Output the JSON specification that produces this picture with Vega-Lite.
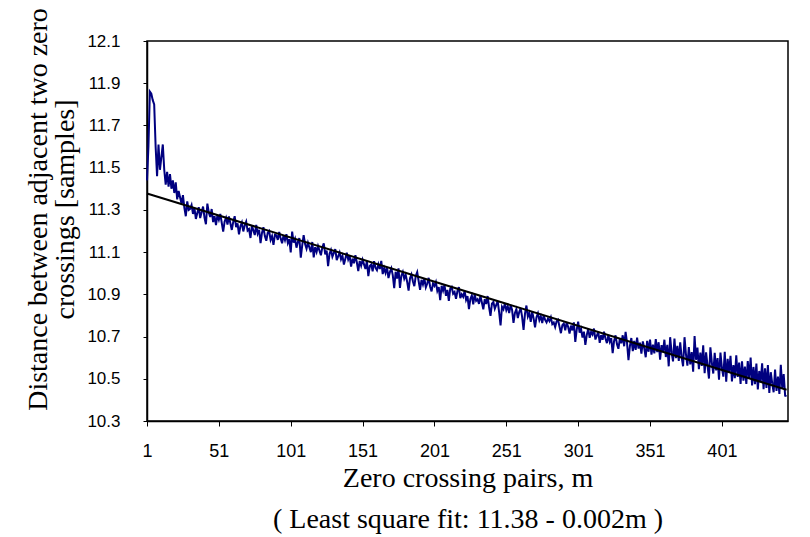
{
  "$schema": "https://vega.github.io/schema/vega-lite/v6.json",
  "autosize": "none",
  "width": 641,
  "height": 380,
  "padding": {"left": 147, "top": 41, "right": 22, "bottom": 116},
  "background": "white",
  "config": {"view": {"stroke": "black", "strokeWidth": 1.5}},
  "datasets": {
    "fit": [{"m": 1, "v": 11.378}, {"m": 446, "v": 10.448}],
    "series": [
      {"m":1,"v":11.44},{"m":2,"v":11.60},{"m":3,"v":11.86},{"m":4,"v":11.85},{"m":5,"v":11.82},{"m":6,"v":11.80},{"m":7,"v":11.60},{"m":8,"v":11.46},{"m":9,"v":11.61},{"m":10,"v":11.49},
      {"m":11,"v":11.55},{"m":12,"v":11.61},{"m":13,"v":11.49},{"m":14,"v":11.42},{"m":15,"v":11.48},{"m":16,"v":11.41},{"m":17,"v":11.47},{"m":18,"v":11.40},{"m":19,"v":11.44},{"m":20,"v":11.38},
      {"m":21,"v":11.43},{"m":22,"v":11.35},{"m":23,"v":11.39},{"m":24,"v":11.36},{"m":25,"v":11.33},{"m":26,"v":11.37},{"m":27,"v":11.31},{"m":28,"v":11.27},{"m":29,"v":11.34},{"m":30,"v":11.30},
      {"m":31,"v":11.305},{"m":32,"v":11.323},{"m":33,"v":11.281},{"m":34,"v":11.309},{"m":35,"v":11.257},{"m":36,"v":11.285},{"m":37,"v":11.313},{"m":38,"v":11.261},{"m":39,"v":11.289},{"m":40,"v":11.316},
      {"m":41,"v":11.264},{"m":42,"v":11.232},{"m":43,"v":11.330},{"m":44,"v":11.288},{"m":45,"v":11.266},{"m":46,"v":11.304},{"m":47,"v":11.242},{"m":48,"v":11.270},{"m":49,"v":11.228},{"m":50,"v":11.275},
      {"m":51,"v":11.253},{"m":52,"v":11.281},{"m":53,"v":11.239},{"m":54,"v":11.197},{"m":55,"v":11.245},{"m":56,"v":11.263},{"m":57,"v":11.231},{"m":58,"v":11.269},{"m":59,"v":11.237},{"m":60,"v":11.205},
      {"m":61,"v":11.243},{"m":62,"v":11.270},{"m":63,"v":11.218},{"m":64,"v":11.236},{"m":65,"v":11.184},{"m":66,"v":11.222},{"m":67,"v":11.240},{"m":68,"v":11.198},{"m":69,"v":11.226},{"m":70,"v":11.244},
      {"m":71,"v":11.202},{"m":72,"v":11.209},{"m":73,"v":11.167},{"m":74,"v":11.225},{"m":75,"v":11.203},{"m":76,"v":11.181},{"m":77,"v":11.229},{"m":78,"v":11.187},{"m":79,"v":11.205},{"m":80,"v":11.143},
      {"m":81,"v":11.191},{"m":82,"v":11.218},{"m":83,"v":11.176},{"m":84,"v":11.154},{"m":85,"v":11.192},{"m":86,"v":11.200},{"m":87,"v":11.158},{"m":88,"v":11.176},{"m":89,"v":11.134},{"m":90,"v":11.182},
      {"m":91,"v":11.180},{"m":92,"v":11.158},{"m":93,"v":11.196},{"m":94,"v":11.164},{"m":95,"v":11.142},{"m":96,"v":11.180},{"m":97,"v":11.157},{"m":98,"v":11.185},{"m":99,"v":11.143},{"m":100,"v":11.161},
      {"m":101,"v":11.099},{"m":102,"v":11.197},{"m":103,"v":11.145},{"m":104,"v":11.163},{"m":105,"v":11.121},{"m":106,"v":11.149},{"m":107,"v":11.166},{"m":108,"v":11.074},{"m":109,"v":11.132},{"m":110,"v":11.180},
      {"m":111,"v":11.138},{"m":112,"v":11.116},{"m":113,"v":11.144},{"m":114,"v":11.122},{"m":115,"v":11.100},{"m":116,"v":11.148},{"m":117,"v":11.075},{"m":118,"v":11.123},{"m":119,"v":11.101},{"m":120,"v":11.129},
      {"m":121,"v":11.107},{"m":122,"v":11.085},{"m":123,"v":11.123},{"m":124,"v":11.141},{"m":125,"v":11.089},{"m":126,"v":11.107},{"m":127,"v":11.034},{"m":128,"v":11.092},{"m":129,"v":11.110},{"m":130,"v":11.078},
      {"m":131,"v":11.096},{"m":132,"v":11.114},{"m":133,"v":11.062},{"m":134,"v":11.080},{"m":135,"v":11.098},{"m":136,"v":11.066},{"m":137,"v":11.083},{"m":138,"v":11.041},{"m":139,"v":11.069},{"m":140,"v":11.097},
      {"m":141,"v":11.065},{"m":142,"v":11.083},{"m":143,"v":11.031},{"m":144,"v":11.069},{"m":145,"v":11.047},{"m":146,"v":11.085},{"m":147,"v":11.052},{"m":148,"v":11.010},{"m":149,"v":11.058},{"m":150,"v":11.036},
      {"m":151,"v":11.064},{"m":152,"v":11.042},{"m":153,"v":11.020},{"m":154,"v":11.058},{"m":155,"v":10.986},{"m":156,"v":11.034},{"m":157,"v":11.041},{"m":158,"v":11.009},{"m":159,"v":11.057},{"m":160,"v":11.025},
      {"m":161,"v":11.014},{"m":162,"v":11.042},{"m":163,"v":11.020},{"m":164,"v":11.058},{"m":165,"v":10.996},{"m":166,"v":11.024},{"m":167,"v":11.001},{"m":168,"v":11.029},{"m":169,"v":10.977},{"m":170,"v":11.005},
      {"m":171,"v":11.023},{"m":172,"v":10.991},{"m":173,"v":10.929},{"m":174,"v":11.007},{"m":175,"v":10.975},{"m":176,"v":11.023},{"m":177,"v":10.930},{"m":178,"v":10.988},{"m":179,"v":11.006},{"m":180,"v":10.974},
      {"m":181,"v":10.992},{"m":182,"v":10.960},{"m":183,"v":10.918},{"m":184,"v":10.976},{"m":185,"v":10.994},{"m":186,"v":10.962},{"m":187,"v":10.939},{"m":188,"v":10.987},{"m":189,"v":11.005},{"m":190,"v":10.963},
      {"m":191,"v":10.921},{"m":192,"v":10.969},{"m":193,"v":10.947},{"m":194,"v":10.975},{"m":195,"v":10.933},{"m":196,"v":10.951},{"m":197,"v":10.978},{"m":198,"v":10.936},{"m":199,"v":10.914},{"m":200,"v":10.952},
      {"m":201,"v":10.940},{"m":202,"v":10.958},{"m":203,"v":10.916},{"m":204,"v":10.934},{"m":205,"v":10.872},{"m":206,"v":10.940},{"m":207,"v":10.917},{"m":208,"v":10.945},{"m":209,"v":10.893},{"m":210,"v":10.921},
      {"m":211,"v":10.869},{"m":212,"v":10.927},{"m":213,"v":10.935},{"m":214,"v":10.903},{"m":215,"v":10.911},{"m":216,"v":10.879},{"m":217,"v":10.916},{"m":218,"v":10.934},{"m":219,"v":10.882},{"m":220,"v":10.900},
      {"m":221,"v":10.888},{"m":222,"v":10.916},{"m":223,"v":10.874},{"m":224,"v":10.892},{"m":225,"v":10.830},{"m":226,"v":10.878},{"m":227,"v":10.895},{"m":228,"v":10.853},{"m":229,"v":10.901},{"m":230,"v":10.869},
      {"m":231,"v":10.877},{"m":232,"v":10.855},{"m":233,"v":10.893},{"m":234,"v":10.861},{"m":235,"v":10.829},{"m":236,"v":10.877},{"m":237,"v":10.854},{"m":238,"v":10.892},{"m":239,"v":10.840},{"m":240,"v":10.798},
      {"m":241,"v":10.856},{"m":242,"v":10.864},{"m":243,"v":10.832},{"m":244,"v":10.850},{"m":245,"v":10.868},{"m":246,"v":10.816},{"m":247,"v":10.753},{"m":248,"v":10.841},{"m":249,"v":10.829},{"m":250,"v":10.857},
      {"m":251,"v":10.825},{"m":252,"v":10.843},{"m":253,"v":10.811},{"m":254,"v":10.849},{"m":255,"v":10.827},{"m":256,"v":10.765},{"m":257,"v":10.812},{"m":258,"v":10.830},{"m":259,"v":10.788},{"m":260,"v":10.816},
      {"m":261,"v":10.835},{"m":262,"v":10.793},{"m":263,"v":10.731},{"m":264,"v":10.809},{"m":265,"v":10.847},{"m":266,"v":10.795},{"m":267,"v":10.812},{"m":268,"v":10.770},{"m":269,"v":10.818},{"m":270,"v":10.786},
      {"m":271,"v":10.744},{"m":272,"v":10.792},{"m":273,"v":10.810},{"m":274,"v":10.778},{"m":275,"v":10.796},{"m":276,"v":10.764},{"m":277,"v":10.801},{"m":278,"v":10.779},{"m":279,"v":10.767},{"m":280,"v":10.785},
      {"m":281,"v":10.773},{"m":282,"v":10.791},{"m":283,"v":10.759},{"m":284,"v":10.767},{"m":285,"v":10.745},{"m":286,"v":10.773},{"m":287,"v":10.780},{"m":288,"v":10.748},{"m":289,"v":10.716},{"m":290,"v":10.754},
      {"m":291,"v":10.762},{"m":292,"v":10.730},{"m":293,"v":10.768},{"m":294,"v":10.746},{"m":295,"v":10.714},{"m":296,"v":10.752},{"m":297,"v":10.729},{"m":298,"v":10.767},{"m":299,"v":10.675},{"m":300,"v":10.733},
      {"m":301,"v":10.771},{"m":302,"v":10.719},{"m":303,"v":10.737},{"m":304,"v":10.695},{"m":305,"v":10.723},{"m":306,"v":10.661},{"m":307,"v":10.708},{"m":308,"v":10.736},{"m":309,"v":10.694},{"m":310,"v":10.722},
      {"m":311,"v":10.710},{"m":312,"v":10.738},{"m":313,"v":10.686},{"m":314,"v":10.704},{"m":315,"v":10.722},{"m":316,"v":10.670},{"m":317,"v":10.707},{"m":318,"v":10.685},{"m":319,"v":10.723},{"m":320,"v":10.691},
      {"m":321,"v":10.669},{"m":322,"v":10.707},{"m":323,"v":10.675},{"m":324,"v":10.693},{"m":325,"v":10.621},{"m":326,"v":10.679},{"m":327,"v":10.706},{"m":328,"v":10.664},{"m":329,"v":10.642},{"m":330,"v":10.690},
      {"m":331,"v":10.668},{"m":332,"v":10.706},{"m":333,"v":10.654},{"m":334,"v":10.722},{"m":335,"v":10.670},{"m":336,"v":10.588},{"m":337,"v":10.655},{"m":338,"v":10.693},{"m":339,"v":10.631},{"m":340,"v":10.679},
      {"m":341,"v":10.637},{"m":342,"v":10.695},{"m":343,"v":10.643},{"m":344,"v":10.671},{"m":345,"v":10.619},{"m":346,"v":10.677},{"m":347,"v":10.644},{"m":348,"v":10.602},{"m":349,"v":10.680},{"m":350,"v":10.628},
      {"m":351,"v":10.686},{"m":352,"v":10.614},{"m":353,"v":10.662},{"m":354,"v":10.620},{"m":355,"v":10.688},{"m":356,"v":10.626},{"m":357,"v":10.673},{"m":358,"v":10.591},{"m":359,"v":10.659},{"m":360,"v":10.627},
      {"m":361,"v":10.685},{"m":362,"v":10.603},{"m":363,"v":10.661},{"m":364,"v":10.559},{"m":365,"v":10.697},{"m":366,"v":10.625},{"m":367,"v":10.582},{"m":368,"v":10.690},{"m":369,"v":10.598},{"m":370,"v":10.656},
      {"m":371,"v":10.585},{"m":372,"v":10.673},{"m":373,"v":10.601},{"m":374,"v":10.559},{"m":375,"v":10.697},{"m":376,"v":10.615},{"m":377,"v":10.562},{"m":378,"v":10.650},{"m":379,"v":10.568},{"m":380,"v":10.626},
      {"m":381,"v":10.534},{"m":382,"v":10.702},{"m":383,"v":10.590},{"m":384,"v":10.648},{"m":385,"v":10.546},{"m":386,"v":10.624},{"m":387,"v":10.561},{"m":388,"v":10.659},{"m":389,"v":10.527},{"m":390,"v":10.625},
      {"m":391,"v":10.563},{"m":392,"v":10.501},{"m":393,"v":10.649},{"m":394,"v":10.577},{"m":395,"v":10.525},{"m":396,"v":10.623},{"m":397,"v":10.540},{"m":398,"v":10.598},{"m":399,"v":10.496},{"m":400,"v":10.624},
      {"m":401,"v":10.552},{"m":402,"v":10.510},{"m":403,"v":10.628},{"m":404,"v":10.486},{"m":405,"v":10.594},{"m":406,"v":10.532},{"m":407,"v":10.609},{"m":408,"v":10.487},{"m":409,"v":10.565},{"m":410,"v":10.503},
      {"m":411,"v":10.611},{"m":412,"v":10.509},{"m":413,"v":10.577},{"m":414,"v":10.475},{"m":415,"v":10.583},{"m":416,"v":10.491},{"m":417,"v":10.558},{"m":418,"v":10.476},{"m":419,"v":10.584},{"m":420,"v":10.502},
      {"m":421,"v":10.600},{"m":422,"v":10.468},{"m":423,"v":10.556},{"m":424,"v":10.474},{"m":425,"v":10.572},{"m":426,"v":10.450},{"m":427,"v":10.537},{"m":428,"v":10.485},{"m":429,"v":10.573},{"m":430,"v":10.451},
      {"m":431,"v":10.549},{"m":432,"v":10.457},{"m":433,"v":10.565},{"m":434,"v":10.433},{"m":435,"v":10.531},{"m":436,"v":10.479},{"m":437,"v":10.436},{"m":438,"v":10.544},{"m":439,"v":10.442},{"m":440,"v":10.510},
      {"m":441,"v":10.428},{"m":442,"v":10.566},{"m":443,"v":10.454},{"m":444,"v":10.522},{"m":445,"v":10.420},{"m":446,"v":10.418}
    ]
  },
  "encoding": {
    "x": {
      "field": "m", "type": "quantitative",
      "scale": {"domain": [1, 447], "nice": false, "zero": false},
      "axis": {
        "values": [1, 51, 101, 151, 201, 251, 301, 351, 401],
        "grid": false, "domainColor": "black", "domainWidth": 1.5,
        "tickColor": "black", "tickSize": 5, "tickWidth": 1,
        "labelFont": "Liberation Sans", "labelFontSize": 18, "labelColor": "black",
        "labelBaseline": "alphabetic", "labelPadding": 30, "labelFlush": false, "labelOverlap": false,
        "title": ["Zero crossing pairs, m", "( Least square fit: 11.38 - 0.002m )"],
        "titleFont": "Liberation Serif", "titleFontSize": 28, "titleFontWeight": "normal", "titleColor": "black",
        "titleBaseline": "alphabetic", "titleY": 65, "titleLineHeight": 41
      }
    },
    "y": {
      "field": "v", "type": "quantitative",
      "scale": {"domain": [10.3, 12.1], "nice": false, "zero": false},
      "axis": {
        "values": [10.3, 10.5, 10.7, 10.9, 11.1, 11.3, 11.5, 11.7, 11.9, 12.1],
        "format": ".1f",
        "grid": false, "domainColor": "black", "domainWidth": 1.5,
        "tickColor": "black", "tickSize": 4, "tickWidth": 1,
        "labelFont": "Liberation Sans", "labelFontSize": 17, "labelColor": "black",
        "labelPadding": 23, "labelOverlap": false,
        "title": ["Distance between adjacent two zero", "crossings [samples]     "],
        "titleFont": "Liberation Serif", "titleFontSize": 28, "titleFontWeight": "normal", "titleColor": "black",
        "titleBaseline": "alphabetic", "titleX": -101, "titleY": 168, "titleLineHeight": 27
      }
    }
  },
  "layer": [
    {"data": {"name": "series"}, "mark": {"type": "line", "color": "#000080", "strokeWidth": 2}},
    {"data": {"name": "fit"}, "mark": {"type": "line", "color": "black", "strokeWidth": 2}}
  ]
}
